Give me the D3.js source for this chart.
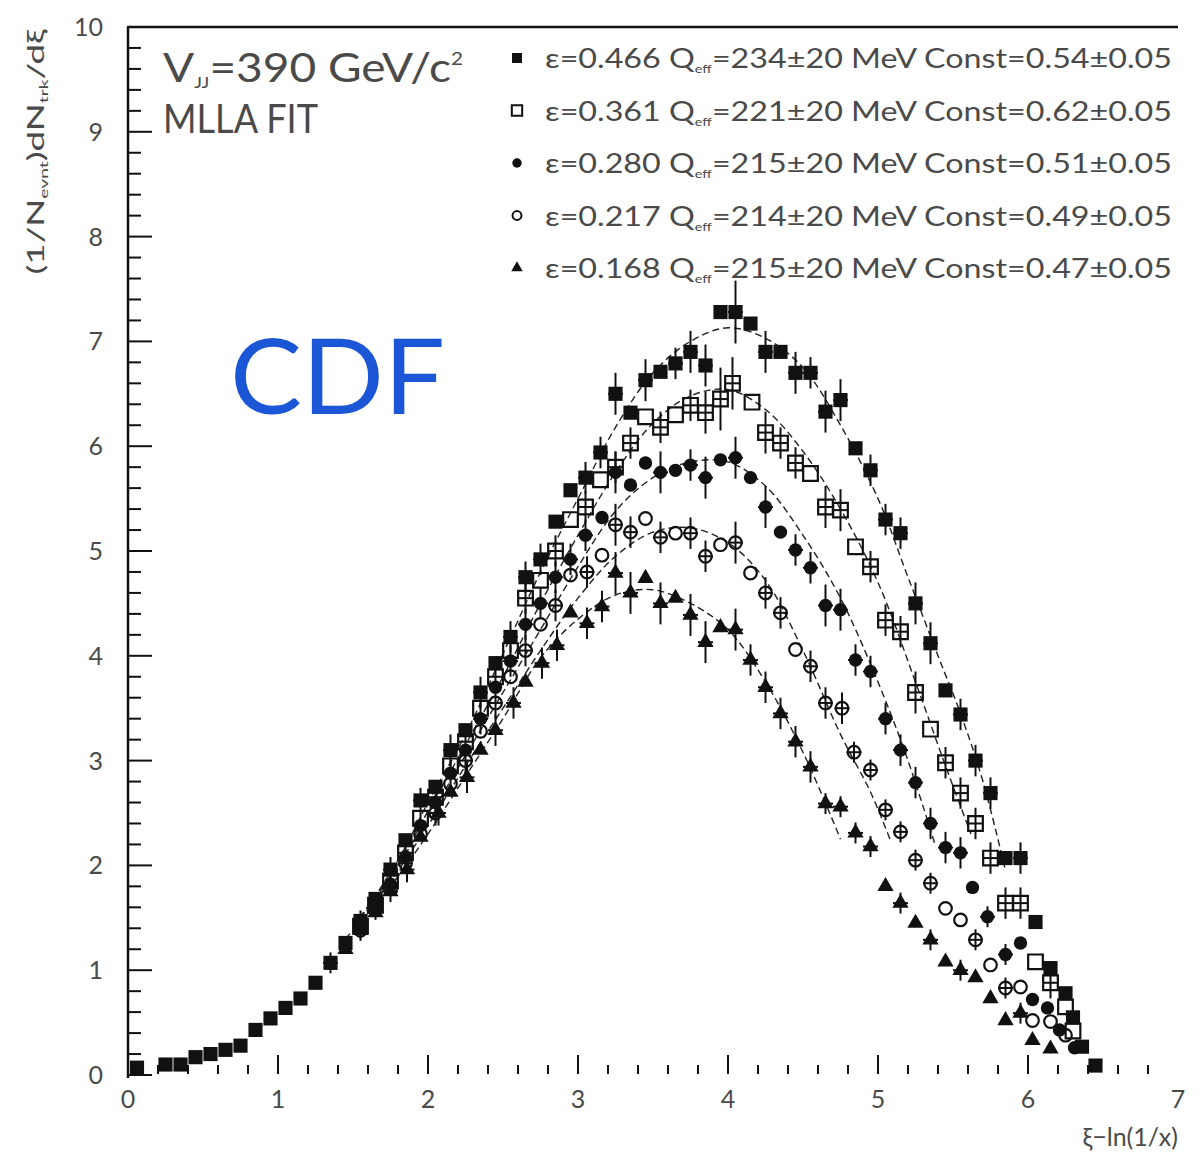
<!DOCTYPE html>
<html>
<head>
<meta charset="utf-8">
<script src="https://cdn.jsdelivr.net/npm/d3@7"></script>
<style>
  body { margin: 0; background: #fff; }
  text { font-family: Lato, "DejaVu Sans", sans-serif; }
</style>
</head>
<body>
<div id="chart-area"></div>
<script>
// Data: [xi, value, error]
const sqFilled = [[0.06,0.07,0],[0.25,0.10,0],[0.35,0.10,0],[0.45,0.17,0],[0.55,0.20,0],[0.65,0.24,0],[0.75,0.28,0],[0.85,0.43,0],[0.95,0.54,0],[1.05,0.64,0],[1.15,0.73,0],[1.25,0.88,0],[1.35,1.07,0.1],[1.45,1.26,0],[1.55,1.47,0.1],[1.65,1.68,0],[1.75,1.96,0.12],[1.85,2.24,0],[1.95,2.62,0.12],[2.05,2.75,0],[2.15,3.10,0.15],[2.25,3.29,0],[2.35,3.65,0.15],[2.45,3.93,0],[2.55,4.18,0.15],[2.65,4.75,0.15],[2.75,4.92,0.15],[2.85,5.28,0],[2.95,5.58,0],[3.05,5.70,0.15],[3.15,5.94,0.15],[3.25,6.50,0.2],[3.35,6.32,0],[3.45,6.63,0.2],[3.55,6.71,0],[3.65,6.79,0.15],[3.75,6.90,0.2],[3.85,6.77,0.2],[3.95,7.28,0],[4.05,7.28,0.3],[4.15,7.17,0],[4.25,6.90,0.2],[4.35,6.90,0],[4.45,6.70,0.2],[4.55,6.70,0.15],[4.65,6.33,0.2],[4.75,6.44,0.2],[4.85,5.98,0],[4.95,5.77,0.15],[5.05,5.30,0.15],[5.15,5.17,0.15],[5.25,4.50,0.2],[5.35,4.12,0.2],[5.45,3.67,0],[5.55,3.44,0.15],[5.65,3.00,0.15],[5.75,2.69,0.15],[5.85,2.07,0],[5.95,2.07,0.15],[6.05,1.46,0],[6.15,1.02,0],[6.25,0.78,0],[6.30,0.55,0],[6.36,0.27,0],[6.45,0.09,0]];
const sqOpen = [[1.55,1.42,0],[1.65,1.62,0.1],[1.75,1.85,0],[1.85,2.12,0.1],[1.95,2.45,0],[2.05,2.65,0.12],[2.15,2.95,0],[2.25,3.18,0.12],[2.35,3.50,0],[2.45,3.80,0.15],[2.55,4.05,0],[2.65,4.55,0.15],[2.75,4.72,0],[2.85,5.00,0.15],[2.95,5.30,0],[3.05,5.42,0.15],[3.15,5.68,0],[3.25,5.80,0.15],[3.35,6.03,0.15],[3.45,6.28,0],[3.55,6.18,0.15],[3.65,6.30,0],[3.75,6.39,0.15],[3.85,6.32,0.2],[3.95,6.45,0.3],[4.03,6.60,0.25],[4.16,6.42,0],[4.25,6.13,0.2],[4.35,6.03,0.15],[4.45,5.84,0.15],[4.55,5.74,0],[4.65,5.42,0.2],[4.75,5.39,0.2],[4.85,5.04,0],[4.95,4.85,0.15],[5.05,4.34,0.15],[5.15,4.23,0.15],[5.25,3.65,0.2],[5.35,3.30,0],[5.45,2.98,0.15],[5.55,2.69,0.15],[5.65,2.40,0.15],[5.75,2.07,0.15],[5.85,1.64,0.15],[5.95,1.64,0.15],[6.05,1.08,0],[6.15,0.88,0.15],[6.25,0.65,0],[6.30,0.42,0]];
const circFilled = [[1.55,1.40,0.1],[1.65,1.60,0],[1.75,1.82,0.1],[1.85,2.08,0],[1.95,2.38,0.12],[2.05,2.60,0],[2.15,2.88,0.12],[2.25,3.10,0],[2.35,3.40,0.15],[2.45,3.70,0],[2.55,3.95,0.15],[2.65,4.30,0.15],[2.75,4.50,0.15],[2.85,4.75,0.15],[2.95,4.92,0.15],[3.05,5.15,0.15],[3.16,5.32,0],[3.25,5.75,0.2],[3.35,5.63,0],[3.45,5.84,0],[3.55,5.75,0.2],[3.65,5.77,0],[3.75,5.82,0.15],[3.85,5.70,0.2],[3.95,5.87,0],[4.05,5.89,0.2],[4.15,5.70,0],[4.25,5.42,0.2],[4.35,5.18,0],[4.45,5.01,0.15],[4.55,4.84,0.15],[4.65,4.48,0.2],[4.75,4.44,0.2],[4.85,3.96,0.15],[4.95,3.85,0.15],[5.05,3.40,0.15],[5.15,3.10,0.15],[5.25,2.79,0.15],[5.35,2.40,0.15],[5.45,2.17,0.15],[5.55,2.12,0.15],[5.63,1.79,0],[5.73,1.51,0.1],[5.85,1.15,0.1],[5.95,1.26,0],[6.03,0.72,0],[6.13,0.64,0],[6.21,0.43,0],[6.31,0.26,0]];
const circOpen = [[1.55,1.38,0],[1.65,1.58,0.1],[1.75,1.78,0],[1.85,2.02,0.1],[1.95,2.30,0],[2.05,2.50,0.12],[2.15,2.78,0],[2.25,3.00,0.12],[2.35,3.28,0],[2.45,3.55,0.15],[2.55,3.80,0],[2.65,4.05,0.15],[2.75,4.30,0],[2.85,4.48,0.15],[2.95,4.77,0],[3.06,4.80,0.15],[3.16,4.96,0],[3.25,5.25,0.2],[3.35,5.18,0.15],[3.45,5.31,0],[3.55,5.13,0.15],[3.65,5.17,0],[3.75,5.17,0.15],[3.85,4.95,0.15],[3.95,5.06,0],[4.05,5.08,0.2],[4.15,4.79,0],[4.25,4.60,0.15],[4.35,4.41,0.15],[4.45,4.06,0],[4.55,3.90,0.15],[4.65,3.55,0.15],[4.76,3.50,0.15],[4.84,3.08,0.1],[4.95,2.91,0.1],[5.05,2.53,0.1],[5.15,2.32,0.1],[5.25,2.05,0.1],[5.35,1.83,0.1],[5.45,1.59,0],[5.55,1.48,0],[5.65,1.29,0.1],[5.75,1.05,0],[5.85,0.83,0.1],[5.95,0.84,0],[6.03,0.52,0],[6.15,0.51,0],[6.25,0.38,0]];
const triFilled = [[1.45,1.20,0],[1.55,1.38,0.1],[1.65,1.55,0],[1.75,1.75,0.1],[1.86,1.96,0.12],[1.95,2.27,0],[2.07,2.50,0.12],[2.15,2.70,0],[2.26,2.84,0.15],[2.35,3.10,0],[2.45,3.29,0.15],[2.57,3.55,0.15],[2.65,3.75,0],[2.76,3.93,0.15],[2.86,4.10,0.15],[2.95,4.41,0],[3.06,4.31,0.15],[3.16,4.47,0.15],[3.25,4.79,0.2],[3.35,4.60,0.2],[3.45,4.74,0],[3.55,4.50,0.2],[3.65,4.55,0],[3.75,4.39,0.2],[3.85,4.13,0.2],[3.95,4.27,0],[4.05,4.25,0.2],[4.15,3.96,0.15],[4.25,3.70,0.15],[4.35,3.45,0.15],[4.45,3.18,0.15],[4.55,2.94,0.15],[4.65,2.59,0.1],[4.75,2.56,0.1],[4.85,2.31,0.1],[4.95,2.18,0.1],[5.05,1.80,0],[5.15,1.64,0.1],[5.25,1.45,0],[5.35,1.29,0.1],[5.45,1.08,0],[5.55,1.00,0.1],[5.65,0.93,0],[5.75,0.73,0],[5.85,0.52,0],[5.95,0.59,0.1],[6.03,0.33,0],[6.15,0.25,0]];

// MLLA fit curves
const fitSqFilled = [[1.55,1.50],[1.8,2.05],[2.0,2.6],[2.25,3.25],[2.5,4.02],[2.75,4.8],[3.0,5.5],[3.25,6.18],[3.5,6.7],[3.75,7.0],[4.0,7.13],[4.25,7.03],[4.5,6.75],[4.75,6.2],[5.0,5.5],[5.2,4.75],[5.4,4.0],[5.55,3.45],[5.7,2.8],[5.85,1.95]];
const fitSqOpen = [[1.55,1.48],[1.8,2.0],[2.0,2.52],[2.25,3.15],[2.5,3.8],[2.75,4.5],[3.0,5.15],[3.25,5.75],[3.5,6.22],[3.75,6.48],[4.0,6.54],[4.25,6.35],[4.5,5.95],[4.75,5.4],[5.0,4.7],[5.25,3.75],[5.45,2.95],[5.62,2.3]];
const fitCircFilled = [[1.5,1.42],[1.75,1.9],[2.0,2.45],[2.25,3.05],[2.5,3.65],[2.75,4.25],[3.0,4.85],[3.25,5.38],[3.5,5.7],[3.75,5.85],[4.0,5.85],[4.25,5.62],[4.5,5.15],[4.75,4.55],[5.0,3.75],[5.2,3.0],[5.38,2.2]];
const fitCircOpen = [[1.5,1.4],[1.75,1.85],[2.0,2.38],[2.25,2.95],[2.5,3.5],[2.75,4.05],[3.0,4.55],[3.25,4.95],[3.5,5.18],[3.75,5.22],[4.0,5.08],[4.25,4.72],[4.5,4.05],[4.75,3.25],[4.95,2.7],[5.08,2.25]];
const fitTri = [[1.45,1.3],[1.75,1.8],[2.0,2.3],[2.25,2.85],[2.5,3.4],[2.75,3.98],[3.0,4.35],[3.25,4.58],[3.5,4.63],[3.75,4.5],[4.0,4.25],[4.25,3.75],[4.5,3.08],[4.75,2.25]];

const legendEps = ['0.466', '0.361', '0.280', '0.217', '0.168'];
const legendQ = ['234', '221', '215', '214', '215'];
const legendConst = ['0.54', '0.62', '0.51', '0.49', '0.47'];

const xTickLabels = [0, 1, 2, 3, 4, 5, 6, 7];
const yTickLabels = [0, 1, 2, 3, 4, 5, 6, 7, 8, 9, 10];

const W = 1202, H = 1158;
const svg = d3.select('#chart-area').append('svg')
  .attr('width', W)
  .attr('height', H);

const x = d3.scaleLinear().domain([0, 7]).range([128, 1178]);
const y = d3.scaleLinear().domain([0, 10]).range([1075, 27]);

const ink = '#111';
const txt = '#4a4a4a';

// frame: left + top
svg.append('line').attr('x1', 128).attr('x2', 128).attr('y1', y(10)).attr('y2', y(0) + 3)
  .attr('stroke', ink).attr('stroke-width', 2.5);
svg.append('line').attr('x1', 127).attr('x2', x(7)).attr('y1', y(10)).attr('y2', y(10))
  .attr('stroke', ink).attr('stroke-width', 2.5);

// y ticks (inward)
svg.append('g').selectAll('line')
  .data(y.ticks(50))
  .enter().append('line')
  .attr('x1', 128)
  .attr('x2', (d) => Math.abs(d - Math.round(d)) < 1e-6 ? 152 : 141)
  .attr('y1', (d) => y(d)).attr('y2', (d) => y(d))
  .attr('stroke', ink).attr('stroke-width', 2);

// x ticks (upward, no axis line)
svg.append('g').selectAll('line')
  .data(x.ticks(35).filter((d) => d > 0 && d < 7))
  .enter().append('line')
  .attr('x1', (d) => x(d)).attr('x2', (d) => x(d))
  .attr('y1', 1074)
  .attr('y2', (d) => Math.abs(d - Math.round(d)) < 1e-6 ? 1055 : 1065)
  .attr('stroke', ink).attr('stroke-width', 2);

// tick labels
svg.append('g').selectAll('text')
  .data(yTickLabels)
  .enter().append('text')
  .attr('x', 103).attr('y', (d) => y(d) + 9)
  .attr('text-anchor', 'end')
  .attr('font-size', 25).attr('fill', txt)
  .text((d) => d);

svg.append('g').selectAll('text')
  .data(xTickLabels)
  .enter().append('text')
  .attr('x', (d) => x(d)).attr('y', 1108)
  .attr('text-anchor', 'middle')
  .attr('font-size', 25).attr('fill', txt)
  .text((d) => d);

// axis titles
svg.append('text')
  .attr('x', 1178).attr('y', 1146)
  .attr('text-anchor', 'end')
  .attr('font-size', 25).attr('fill', txt)
  .text('ξ−ln(1/x)');

const yl = svg.append('text')
  .attr('transform', 'translate(44,152) rotate(-90)')
  .attr('text-anchor', 'middle')
  .attr('font-size', 23).attr('fill', txt)
  .attr('textLength', 245).attr('lengthAdjust', 'spacingAndGlyphs');
yl.append('tspan').text('(1/N');
yl.append('tspan').attr('font-size', 12).attr('dy', 4).text('evnt');
yl.append('tspan').attr('dy', -4).text(')dN');
yl.append('tspan').attr('font-size', 12).attr('dy', 4).text('trk');
yl.append('tspan').attr('dy', -4).text('/dξ');

// annotations
const t1 = svg.append('text')
  .attr('x', 163).attr('y', 82)
  .attr('font-size', 40).attr('fill', txt)
  .attr('textLength', 300).attr('lengthAdjust', 'spacingAndGlyphs');
t1.append('tspan').text('V');
t1.append('tspan').attr('font-size', 16).attr('dy', 6).text('JJ');
t1.append('tspan').attr('dy', -6).text('=390 GeV/c');
t1.append('tspan').attr('font-size', 18).attr('dy', -17).text('2');

svg.append('text')
  .attr('x', 163).attr('y', 133)
  .attr('font-size', 40).attr('fill', txt)
  .attr('textLength', 155).attr('lengthAdjust', 'spacingAndGlyphs')
  .text('MLLA FIT');

svg.append('text')
  .attr('x', 230).attr('y', 414)
  .attr('font-family', '"Open Sans", Lato, sans-serif')
  .attr('font-size', 104).attr('fill', '#1a56d6')
  .attr('textLength', 215).attr('lengthAdjust', 'spacingAndGlyphs')
  .text('CDF');

// series definitions
const series = [
  { pts: triFilled, fit: fitTri, type: d3.symbolTriangle, size: 115, fill: ink, stroke: 'none' },
  { pts: circOpen, fit: fitCircOpen, type: d3.symbolCircle, size: 125, fill: 'none', stroke: ink },
  { pts: circFilled, fit: fitCircFilled, type: d3.symbolCircle, size: 140, fill: ink, stroke: 'none' },
  { pts: sqOpen, fit: fitSqOpen, type: d3.symbolSquare, size: 215, fill: 'none', stroke: ink },
  { pts: sqFilled, fit: fitSqFilled, type: d3.symbolSquare, size: 200, fill: ink, stroke: 'none' }
];

const line = d3.line()
  .x((d) => x(d[0]))
  .y((d) => y(d[1]))
  .curve(d3.curveCatmullRom.alpha(0.5));

// fits
svg.append('g').selectAll('path')
  .data(series)
  .enter().append('path')
  .attr('d', (s) => line(s.fit))
  .attr('fill', 'none')
  .attr('stroke', '#222')
  .attr('stroke-width', 1.4)
  .attr('stroke-dasharray', '7,4');

// points + error bars
series.forEach((s) => {
  const g = svg.append('g');
  const withErr = s.pts.filter((d) => d[2] > 0);
  g.selectAll('.ev').data(withErr).enter().append('line')
    .attr('x1', (d) => x(d[0])).attr('x2', (d) => x(d[0]))
    .attr('y1', (d) => y(d[1] - d[2])).attr('y2', (d) => y(d[1] + d[2]))
    .attr('stroke', ink).attr('stroke-width', 2);
  g.selectAll('.eh').data(withErr).enter().append('line')
    .attr('x1', (d) => x(d[0] - 0.05)).attr('x2', (d) => x(d[0] + 0.05))
    .attr('y1', (d) => y(d[1])).attr('y2', (d) => y(d[1]))
    .attr('stroke', ink).attr('stroke-width', 2);
  g.selectAll('path').data(s.pts).enter().append('path')
    .attr('transform', (d) => 'translate(' + x(d[0]) + ',' + y(d[1]) + ')')
    .attr('d', d3.symbol().type(s.type).size(s.size))
    .attr('fill', s.fill)
    .attr('stroke', s.stroke)
    .attr('stroke-width', 2.2);
});

// legend
const legendRows = [4, 3, 2, 1, 0];
legendRows.forEach((si, i) => {
  const s = series[si];
  const ly = 58 + i * 52.5;
  svg.append('path')
    .attr('transform', 'translate(517,' + ly + ')')
    .attr('d', d3.symbol().type(s.type).size(s.size * 0.5))
    .attr('fill', s.fill).attr('stroke', s.stroke).attr('stroke-width', 2);
  const t = svg.append('text')
    .attr('x', 545).attr('y', ly + 10)
    .attr('font-size', 27).attr('fill', txt)
    .attr('textLength', 627).attr('lengthAdjust', 'spacingAndGlyphs');
  t.append('tspan').text('ε=' + legendEps[i] + ' Q');
  t.append('tspan').attr('font-size', 12).attr('dy', 5).text('eff');
  t.append('tspan').attr('dy', -5).text('=' + legendQ[i] + '±20 MeV Const=' + legendConst[i] + '±0.05');
});
</script>
</body>
</html>
